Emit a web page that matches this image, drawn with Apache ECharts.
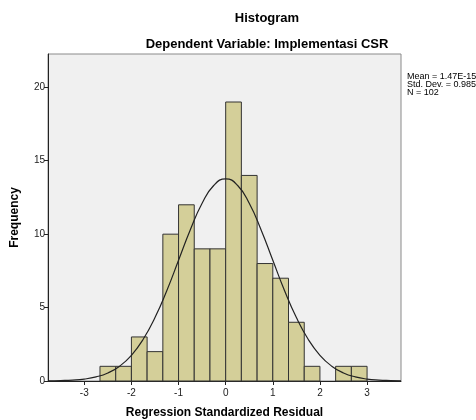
<!DOCTYPE html>
<html>
<head>
<meta charset="utf-8">
<script src="https://cdn.jsdelivr.net/npm/echarts@6/dist/echarts.min.js"></script>
<style>
  html, body { margin: 0; padding: 0; background: #fff; }
  #chart { width: 476px; height: 420px; }
</style>
</head>
<body>
<div id="chart"></div>
<script>
// bin edges (width 1/3) and counts
const binStart = [-2.667, -2.333, -2, -1.667, -1.333, -1, -0.667, -0.333, 0, 0.333, 0.667, 1, 1.333, 1.667, 2, 2.333, 2.667]
const binEnd = [-2.333, -2, -1.667, -1.333, -1, -0.667, -0.333, 0, 0.333, 0.667, 1, 1.333, 1.667, 2, 2.333, 2.667, 3]
const counts = [1, 1, 3, 2, 10, 12, 9, 9, 19, 14, 8, 7, 4, 1, 0, 1, 1]

// normal curve as it sits on the picture
const curveX = [-3.77, -3.5, -3.25, -3, -2.75, -2.5, -2.25, -2, -1.75, -1.5, -1.25, -1, -0.75, -0.5, -0.25, 0,
  0.25, 0.5, 0.75, 1, 1.25, 1.5, 1.75, 2, 2.25, 2.5, 2.75, 3, 3.25, 3.5, 3.72]
const curveY = [0.01, 0.03, 0.06, 0.13, 0.28, 0.55, 1.01, 1.75, 2.84, 4.32, 6.15, 8.22, 10.3, 12.1, 13.33, 13.77,
  13.33, 12.1, 10.3, 8.22, 6.15, 4.32, 2.84, 1.75, 1.01, 0.55, 0.28, 0.13, 0.06, 0.03, 0.01]

const xTicks = [-3, -2, -1, 0, 1, 2, 3]
const yTicks = [0, 5, 10, 15, 20]
const statLines = ['Mean = 1.47E-15', 'Std. Dev. = 0.985', 'N = 102']

const font = 'Liberation Sans, Arial, sans-serif'
const chart = echarts.init(document.getElementById('chart'))

const barData = counts.map((c, i) => [binStart[i], binEnd[i], c])
const lineData = curveX.map((x, i) => [x, curveY[i]])

chart.setOption({
  animation: false,
  textStyle: { fontFamily: font },
  grid: {
    left: 48, top: 54, right: 75, bottom: 39,
    outerBoundsMode: 'none',
    containLabel: false,
    show: true,
    backgroundColor: '#f0f0f0',
    borderColor: '#8a8a8a',
    borderWidth: 1
  },
  graphic: [
    { type: 'text', x: 267, y: 12, style: { text: 'Histogram', font: 'bold 13px ' + font, fill: '#000', textAlign: 'center' } },
    { type: 'text', x: 267, y: 38, style: { text: 'Dependent Variable: Implementasi CSR', font: 'bold 13px ' + font, fill: '#000', textAlign: 'center' } },
    { type: 'text', x: 407, y: 73, style: { text: statLines.join('\n'), font: '9px ' + font, lineHeight: 8, fill: '#000' } }
  ],
  xAxis: {
    type: 'value',
    min: -3.77,
    max: 3.72,
    name: 'Regression Standardized Residual',
    nameLocation: 'middle',
    nameGap: 26,
    nameTextStyle: { fontWeight: 'bold', fontSize: 12, color: '#000' },
    axisLine: { show: true, onZero: false, lineStyle: { color: '#222', width: 1 } },
    axisTick: { show: true, length: 4, customValues: xTicks, lineStyle: { color: '#222' } },
    axisLabel: { customValues: xTicks, fontSize: 10, color: '#222', margin: 7 },
    splitLine: { show: false }
  },
  yAxis: {
    type: 'value',
    min: 0,
    max: 22.27,
    name: 'Frequency',
    nameLocation: 'middle',
    nameGap: 27,
    nameTextStyle: { fontWeight: 'bold', fontSize: 12, color: '#000' },
    axisLine: { show: true, onZero: false, lineStyle: { color: '#222', width: 1 } },
    axisTick: { show: true, length: 4, customValues: yTicks, lineStyle: { color: '#222' } },
    axisLabel: { customValues: yTicks, fontSize: 10, color: '#222', margin: 3 },
    splitLine: { show: false }
  },
  series: [
    {
      type: 'custom',
      data: barData,
      encode: { x: [0, 1], y: 2 },
      renderItem: function (params, api) {
        if (api.value(2) === 0) return null
        const p0 = api.coord([api.value(0), api.value(2)])
        const p1 = api.coord([api.value(1), 0])
        return {
          type: 'rect',
          shape: { x: p0[0], y: p0[1], width: p1[0] - p0[0], height: p1[1] - p0[1] },
          style: { fill: '#d4cf99', stroke: '#333', lineWidth: 1 }
        }
      }
    },
    {
      type: 'line',
      data: lineData,
      smooth: true,
      showSymbol: false,
      lineStyle: { color: '#222', width: 1.2 },
      z: 5
    }
  ]
})
</script>
</body>
</html>
